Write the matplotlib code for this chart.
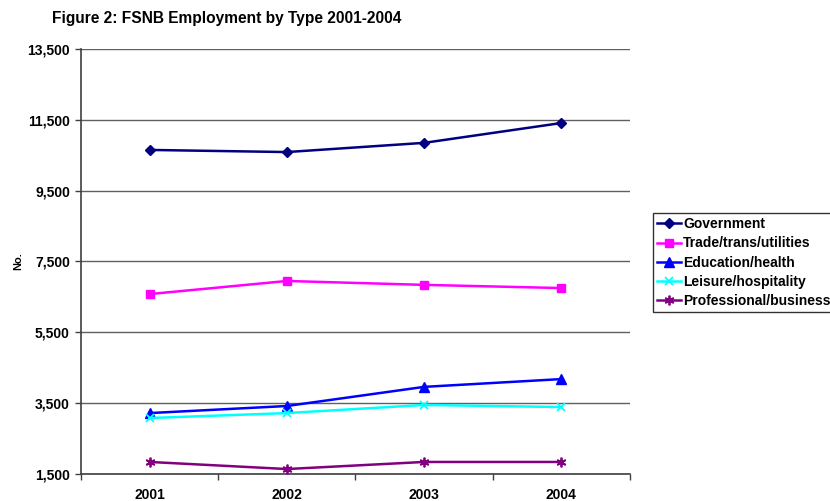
import matplotlib
matplotlib.use('Agg')
import matplotlib.pyplot as plt
from matplotlib.ticker import FuncFormatter, FixedLocator

years = ['2001', '2002', '2003', '2004']
government = [10650, 10590, 10850, 11410]
trade = [6580, 6950, 6840, 6750]
education = [3220, 3420, 3960, 4180]
leisure = [3080, 3220, 3450, 3390]
professional = [1840, 1640, 1840, 1840]

series = [
    ('Government', government, '#000080', 'D', 5),
    ('Trade/trans/utilities', trade, '#FF00FF', 's', 5.5),
    ('Education/health', education, '#0000FF', '^', 6.5),
    ('Leisure/hospitality', leisure, '#00FFFF', 'x', 6),
    ('Professional/business', professional, '#800080', (6, 2, 0), 7),
]

plt.rcParams['font.family'] = ['Liberation Sans', 'DejaVu Sans']
plt.rcParams['font.weight'] = 'bold'

fig = plt.figure(figsize=(8.3, 5.01), dpi=100)
ax = fig.add_axes([0.0976, 0.0539, 0.6614, 0.8483])

x = list(range(1, len(years) + 1))
for name, vals, color, marker, ms in series:
    ax.plot(x, vals, color=color, lw=1.8, marker=marker, markersize=ms,
            markeredgewidth=1.3 if marker in ('x', (6, 2, 0)) else 1,
            markerfacecolor=color, markeredgecolor=color, label=name,
            clip_on=False, zorder=3)

ax.set_xlim(0.5, 4.5)
ax.set_ylim(1500, 13500)
ax.set_yticks(range(1500, 13501, 2000))
ax.yaxis.set_major_formatter(FuncFormatter(lambda v, p: f'{int(v):,}'))
ax.set_xticks(x)
ax.set_xticklabels(years)
ax.xaxis.set_minor_locator(FixedLocator([0.5, 1.5, 2.5, 3.5, 4.5]))
ax.tick_params(axis='x', which='major', length=0, pad=10, labelsize=10)
ax.tick_params(axis='x', which='minor', length=4, width=1, color='#404040', direction='out')
ax.tick_params(axis='y', length=4, width=1, color='#404040', direction='out', labelsize=10, pad=4)
for lab in ax.get_xticklabels() + ax.get_yticklabels():
    lab.set_fontweight('bold')

ax.grid(axis='y', color='#606060', lw=1)
ax.set_axisbelow(True)
ax.spines['top'].set_visible(False)
ax.spines['right'].set_visible(False)
ax.spines['left'].set_color('#404040')
ax.spines['bottom'].set_color('#404040')
ax.spines['left'].set_linewidth(1.2)
ax.spines['bottom'].set_linewidth(1.2)

ax.set_ylabel('No.', fontsize=8, fontweight='bold')
ax.yaxis.set_label_coords(-0.106, 0.5)

fig.text(0.0627, 0.964, 'Figure 2: FSNB Employment by Type 2001-2004',
         fontsize=11.2, fontweight='bold', ha='left', va='center')

leg = ax.legend(loc='upper left', bbox_to_anchor=(1.042, 0.614), frameon=True,
                fancybox=False, edgecolor='black', fontsize=10, handlelength=1.7,
                handletextpad=0.15, borderpad=0.3, labelspacing=0.38,
                borderaxespad=0)
leg.get_frame().set_linewidth(1)
for t in leg.get_texts():
    t.set_fontweight('bold')

fig.savefig('out.png', dpi=100)
